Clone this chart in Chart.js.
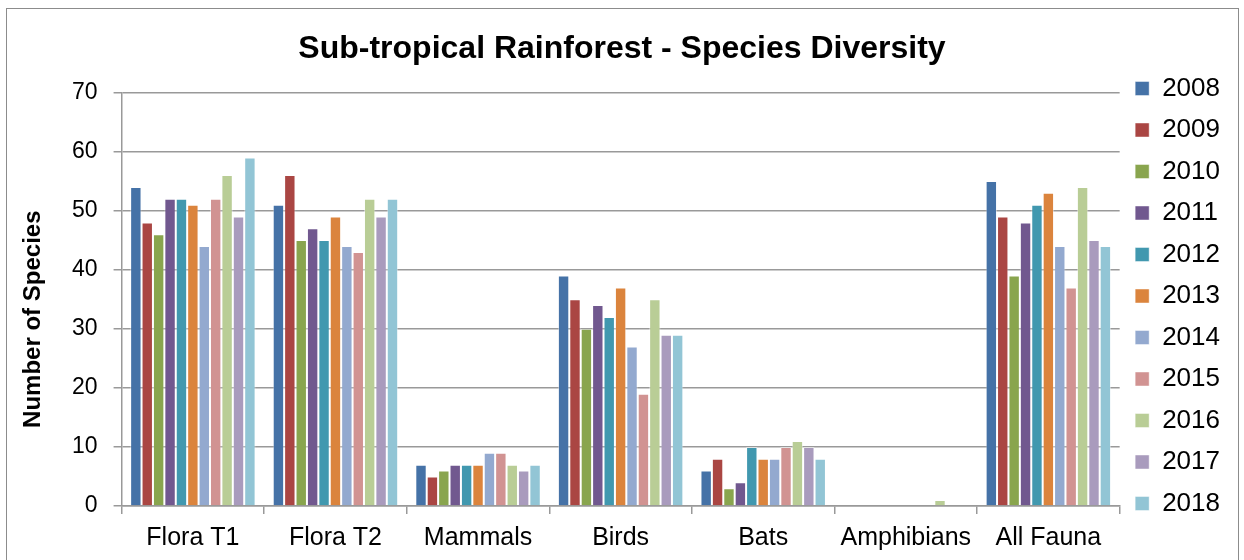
<!DOCTYPE html>
<html>
<head>
<meta charset="utf-8">
<script src="https://cdn.jsdelivr.net/npm/chart.js@4.4.1/dist/chart.umd.min.js"></script>
<style>
	body { margin: 0; background: #fff; }
	#wrap { position: relative; width: 1244px; height: 560px; overflow: hidden; }
	#frame { position: absolute; left: 6px; top: 8px; width: 1231px; height: 600px; border: 1px solid #8c8c8c; pointer-events: none; }
</style>
</head>
<body>
<div id="wrap">
	<canvas id="mycanvas" width="1244" height="560"></canvas>
	<div id="frame"></div>
</div>
<script>
var categories = ['Flora T1', 'Flora T2', 'Mammals', 'Birds', 'Bats', 'Amphibians', 'All Fauna'];
var years = ['2008', '2009', '2010', '2011', '2012', '2013', '2014', '2015', '2016', '2017', '2018'];

// one array per year, values in category order
var y2008 = [54, 51, 7, 39, 6, 0, 55];
var y2009 = [48, 56, 5, 35, 8, 0, 49];
var y2010 = [46, 45, 6, 30, 3, 0, 39];
var y2011 = [52, 47, 7, 34, 4, 0, 48];
var y2012 = [52, 45, 7, 32, 10, 0, 51];
var y2013 = [51, 49, 7, 37, 8, 0, 53];
var y2014 = [44, 44, 9, 27, 8, 0, 44];
var y2015 = [52, 43, 9, 19, 10, 0, 37];
var y2016 = [56, 52, 7, 35, 11, 1, 54];
var y2017 = [49, 49, 6, 29, 10, 0, 45];
var y2018 = [59, 52, 7, 29, 8, 0, 44];

var yTicks = [0, 10, 20, 30, 40, 50, 60, 70];

var colors = ['#4572a7', '#aa4643', '#89a54e', '#71588f', '#4198af', '#db843d',
	'#93a9cf', '#d19392', '#b9cd96', '#a99bbd', '#92c5d5'];

var series = [y2008, y2009, y2010, y2011, y2012, y2013, y2014, y2015, y2016, y2017, y2018];

var datasets = [];
for (var i in years) {
	datasets.push({
		label: years[i],
		data: series[i],
		backgroundColor: colors[i],
		borderColor: 'rgba(255,255,255,0.45)',
		borderWidth: 1,
		categoryPercentage: 0.88,
		barPercentage: 1.0
	});
}

// y axis title, drawn a little below the middle like the original
var yTitle = {
	id: 'yTitle',
	afterDraw: function(chart) {
		var c = chart.ctx;
		var area = chart.chartArea;
		c.save();
		c.translate(33, (area.top + area.bottom) / 2 + 20);
		c.rotate(-Math.PI / 2);
		c.fillStyle = '#000';
		c.font = 'bold 24px "Liberation Sans", Arial';
		c.textAlign = 'center';
		c.textBaseline = 'middle';
		c.fillText('Number of Species', 0, 0);
		c.restore();
	}
};

var ctx = document.getElementById('mycanvas');

var barGraph = new Chart(ctx, {
	type: 'bar',
	data: {
		labels: categories,
		datasets: datasets
	},
	plugins: [yTitle],
	options: {
		responsive: false,
		animation: false,
		layout: { padding: { top: 30, left: 14, right: 14, bottom: -2 } },
		plugins: {
			title: {
				display: true,
				text: 'Sub-tropical Rainforest - Species Diversity',
				color: '#000',
				font: { family: 'Liberation Sans, Arial', size: 32, weight: 'bold' },
				padding: { top: 0, bottom: 24 }
			},
			legend: {
				position: 'right',
				labels: {
					color: '#000',
					font: { family: 'Liberation Sans, Arial', size: 26 },
					boxWidth: 14,
					boxHeight: 14,
					padding: 15.5
				}
			},
			tooltip: { enabled: false }
		},
		scales: {
			x: {
				grid: {
					offset: true,
					drawOnChartArea: false,
					drawTicks: true,
					tickLength: 8,
					color: '#999',
					lineWidth: 1.5
				},
				border: { color: '#999', width: 1.5 },
				ticks: {
					color: '#000',
					font: { family: 'Liberation Sans, Arial', size: 25 },
					padding: 9,
					minRotation: 0,
					maxRotation: 0,
					autoSkip: false
				}
			},
			y: {
				min: 0,
				max: 70,
				afterBuildTicks: function(axis) {
					axis.ticks = yTicks.map(function(v) { return { value: v }; });
				},
				// leave room on the left for the axis title
				afterFit: function(axis) {
					axis.width += 42;
				},
				grid: {
					color: '#999',
					lineWidth: 1.5,
					tickLength: 8
				},
				border: { color: '#999', width: 1.5 },
				ticks: {
					color: '#000',
					font: { family: 'Liberation Sans, Arial', size: 23 },
					padding: 16
				}
			}
		}
	}
});
</script>
</body>
</html>
